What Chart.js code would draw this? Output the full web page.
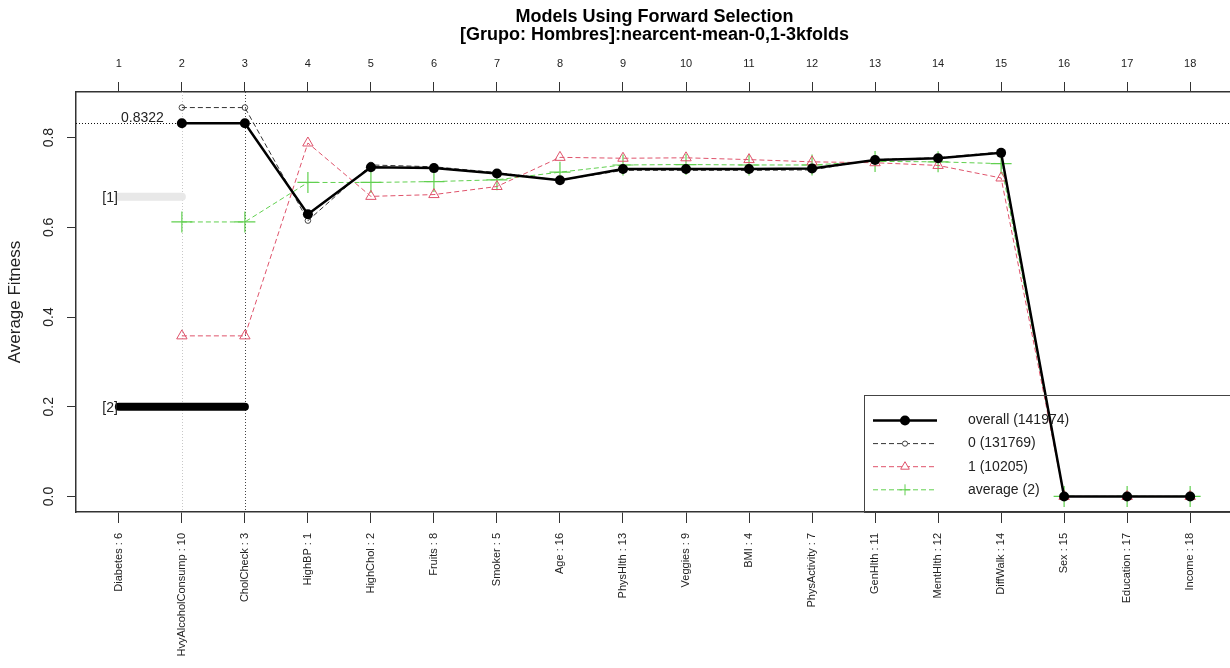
<!DOCTYPE html>
<html>
<head>
<meta charset="utf-8">
<title>Models Using Forward Selection</title>
<script src="https://cdn.jsdelivr.net/npm/chart.js@4/dist/chart.umd.min.js"></script>
<style>
  html, body { margin: 0; padding: 0; background: #fff; width: 1230px; height: 668px; overflow: hidden; }
  #wrap { position: absolute; left: 0; top: 0; width: 1234px; height: 668px; }
</style>
</head>
<body>
<div id="wrap"><canvas id="chart" width="1234" height="668"></canvas></div>
<script>
// Selection steps and the variable added at each step
const steps = [1, 2, 3, 4, 5, 6, 7, 8, 9, 10, 11, 12, 13, 14, 15, 16, 17, 18];
const varNames = ['Diabetes', 'HvyAlcoholConsump', 'CholCheck', 'HighBP', 'HighChol', 'Fruits',
  'Smoker', 'Age', 'PhysHlth', 'Veggies', 'BMI', 'PhysActivity', 'GenHlth', 'MentHlth',
  'DiffWalk', 'Sex', 'Education', 'Income'];
const varIds = [6, 10, 3, 1, 2, 8, 5, 16, 13, 9, 4, 7, 11, 12, 14, 15, 17, 18];

// Average fitness per step (no model at step 1)
const overall = [null, 0.8322, 0.8322, 0.629, 0.734, 0.732, 0.720, 0.705, 0.730, 0.730, 0.730, 0.731, 0.750, 0.754, 0.766, 0, 0, 0];
const class0  = [null, 0.867, 0.867, 0.615, 0.739, 0.735, 0.722, 0.705, 0.727, 0.727, 0.727, 0.728, 0.751, 0.755, 0.768, 0, 0, 0];
const class1  = [null, 0.358, 0.358, 0.788, 0.669, 0.673, 0.691, 0.756, 0.754, 0.755, 0.751, 0.746, 0.744, 0.738, 0.710, 0, 0, 0];
const average = [null, 0.612, 0.612, 0.700, 0.700, 0.702, 0.706, 0.723, 0.739, 0.740, 0.739, 0.739, 0.747, 0.746, 0.742, 0, 0, 0];

const seriesLabels = ['overall (141974)', '0 (131769)', '1 (10205)', 'average (2)'];

// Best fitness and the steps that reach it
const bestValue = 0.8322;
const bestSteps = [2, 3];

// Bracketed group markers: level and the step where each ends
const groupLabels = ['[1]', '[2]'];
const groupLevels = [0.668, 0.2];
const groupEnds = [2, 3];

const yTicks = [0, 0.2, 0.4, 0.6, 0.8];
const xLimits = [0.32, 18.68];
const yLimits = [-0.0347, 0.9017];

const FONT = "'Liberation Sans', Arial, Helvetica, sans-serif";
const RED = '#DF536B';
const GREEN = '#61D04F';

const toPoints = vals => steps.map((s, i) => (vals[i] == null ? null : { x: s, y: vals[i] })).filter(p => p);

const groupSets = groupLabels.map((lab, k) => ({
  label: lab,
  data: [{ x: steps[0], y: groupLevels[k] }, { x: groupEnds[k], y: groupLevels[k] }],
  borderColor: k === 0 ? '#E8E8E8' : '#000',
  borderWidth: 8,
  borderCapStyle: 'round',
  pointRadius: 0,
  order: 20 + k
}));

// Extra drawing: reference lines, annotations, rotated y tick labels, legend
const decor = {
  id: 'decor',
  beforeDatasetsDraw(chart) {
    const { ctx, chartArea: a, scales: { x, y } } = chart;
    ctx.save();
    ctx.lineWidth = 1;
    ctx.setLineDash([1, 2]);
    bestSteps.forEach((s, k) => {
      const px = Math.round(x.getPixelForValue(s)) + 0.5;
      ctx.strokeStyle = k === 0 ? '#C8C8C8' : '#444';
      ctx.beginPath(); ctx.moveTo(px, a.top); ctx.lineTo(px, a.bottom); ctx.stroke();
    });
    const yb = Math.round(y.getPixelForValue(bestValue)) + 0.5;
    ctx.strokeStyle = '#111';
    ctx.beginPath(); ctx.moveTo(a.left, yb); ctx.lineTo(a.right, yb); ctx.stroke();
    ctx.restore();
  },
  afterDatasetsDraw(chart) {
    const { ctx, chartArea: a, scales: { x, y } } = chart;
    ctx.save();
    ctx.fillStyle = '#222';
    ctx.font = '14px ' + FONT;

    // best value label
    ctx.textAlign = 'right';
    ctx.textBaseline = 'middle';
    ctx.fillText(bestValue.toFixed(4), x.getPixelForValue(bestSteps[0]) - 18, y.getPixelForValue(bestValue) - 5);

    // group labels
    groupLabels.forEach((lab, k) => {
      ctx.fillText(lab, x.getPixelForValue(steps[0]) - 1, y.getPixelForValue(groupLevels[k]) + 1.5);
    });

    // y tick labels, parallel to the axis
    ctx.textAlign = 'center';
    yTicks.forEach(v => {
      ctx.save();
      ctx.translate(a.left - 26.5, y.getPixelForValue(v));
      ctx.rotate(-Math.PI / 2);
      ctx.fillText(v.toFixed(1), 0, 0);
      ctx.restore();
    });

    // legend
    const lx = 864, ly = 395;
    ctx.strokeStyle = '#444';
    ctx.lineWidth = 1;
    ctx.setLineDash([]);
    ctx.strokeRect(lx + 0.5, ly + 0.5, a.right - lx, a.bottom - ly);
    const styles = [
      { color: '#000', width: 2.5, dash: [], mark: 'dot' },
      { color: '#333', width: 1, dash: [5, 3], mark: 'ring' },
      { color: RED, width: 1, dash: [5, 3], mark: 'tri' },
      { color: GREEN, width: 1, dash: [5, 3], mark: 'plus' }
    ];
    seriesLabels.forEach((lab, i) => {
      const ry = ly + 25.5 + i * 23.1;
      const st = styles[i];
      ctx.strokeStyle = st.color;
      ctx.lineWidth = st.width;
      ctx.setLineDash(st.dash);
      ctx.beginPath(); ctx.moveTo(873, ry); ctx.lineTo(937, ry); ctx.stroke();
      ctx.setLineDash([]);
      const mx = 905;
      ctx.lineWidth = 1;
      ctx.beginPath();
      if (st.mark === 'dot') {
        ctx.fillStyle = '#000';
        ctx.arc(mx, ry, 5, 0, Math.PI * 2); ctx.fill();
      } else if (st.mark === 'ring') {
        ctx.fillStyle = '#fff';
        ctx.arc(mx, ry, 2.6, 0, Math.PI * 2); ctx.fill(); ctx.strokeStyle = '#444'; ctx.stroke();
      } else if (st.mark === 'tri') {
        ctx.fillStyle = '#fff';
        ctx.moveTo(mx, ry - 5); ctx.lineTo(mx + 4.3, ry + 2.5); ctx.lineTo(mx - 4.3, ry + 2.5); ctx.closePath();
        ctx.fill(); ctx.stroke();
      } else {
        ctx.moveTo(mx - 5.5, ry); ctx.lineTo(mx + 5.5, ry);
        ctx.moveTo(mx, ry - 5.5); ctx.lineTo(mx, ry + 5.5); ctx.stroke();
      }
      ctx.fillStyle = '#222';
      ctx.textAlign = 'left';
      ctx.textBaseline = 'middle';
      ctx.font = '14px ' + FONT;
      ctx.fillText(lab, 968, ry);
    });
    ctx.restore();
  }
};

const fixedTicks = s => { s.ticks = steps.map(v => ({ value: v })); };
const fitHorizontal = h => s => { s.height = h; s.paddingLeft = 0; s.paddingRight = 0; };

new Chart(document.getElementById('chart'), {
  type: 'line',
  data: {
    datasets: [
      {
        label: seriesLabels[0], data: toPoints(overall),
        borderColor: '#000', borderWidth: 2.5,
        pointStyle: 'circle', pointRadius: 5, pointBackgroundColor: '#000', pointBorderColor: '#000', pointBorderWidth: 0,
        order: 0
      },
      {
        label: seriesLabels[1], data: toPoints(class0),
        borderColor: '#333', borderWidth: 1, borderDash: [5, 3],
        pointStyle: 'circle', pointRadius: 2.8, pointBackgroundColor: 'rgba(255,255,255,0)', pointBorderColor: '#444', pointBorderWidth: 1,
        order: 1
      },
      {
        label: seriesLabels[2], data: toPoints(class1),
        borderColor: RED, borderWidth: 1, borderDash: [5, 3],
        pointStyle: 'triangle', pointRadius: 6, pointBackgroundColor: 'rgba(255,255,255,0)', pointBorderColor: RED, pointBorderWidth: 1,
        order: 2
      },
      {
        label: seriesLabels[3], data: toPoints(average),
        borderColor: GREEN, borderWidth: 1, borderDash: [5, 3],
        pointStyle: 'cross', pointRadius: 10.5, pointBorderColor: GREEN, pointBorderWidth: 1.2,
        order: 3
      },
      ...groupSets
    ]
  },
  options: {
    responsive: false,
    animation: false,
    events: [],
    devicePixelRatio: 1,
    layout: { autoPadding: false, padding: { left: 0, right: 1, top: 0, bottom: 0 } },
    elements: { line: { tension: 0, fill: false } },
    plugins: {
      legend: { display: false },
      tooltip: { enabled: false },
      title: {
        display: true,
        fullSize: false,
        text: ['Models Using Forward Selection', '[Grupo: Hombres]:nearcent-mean-0,1-3kfolds'],
        color: '#000',
        font: { family: FONT, size: 18, weight: 'bold', lineHeight: 1.0 },
        padding: { top: 8, bottom: 0 }
      }
    },
    scales: {
      x: {
        type: 'linear', position: 'bottom',
        min: xLimits[0], max: xLimits[1],
        afterBuildTicks: fixedTicks,
        afterFit: fitHorizontal(156),
        ticks: {
          autoSkip: false, minRotation: 90, maxRotation: 90, padding: 10,
          color: '#222', font: { family: FONT, size: 11 },
          callback: (v, i) => varNames[i] + ' : ' + varIds[i]
        },
        grid: { drawOnChartArea: false, tickLength: 11, tickColor: '#333', tickWidth: 1 },
        border: { display: true, color: '#333', width: 1.5 }
      },
      x2: {
        type: 'linear', position: 'top',
        min: xLimits[0], max: xLimits[1],
        afterBuildTicks: fixedTicks,
        afterFit: fitHorizontal(48),
        ticks: {
          autoSkip: false, minRotation: 0, maxRotation: 0, padding: 11,
          color: '#222', font: { family: FONT, size: 11 },
          callback: (v, i) => String(steps[i])
        },
        grid: { drawOnChartArea: false, tickLength: 10, tickColor: '#333', tickWidth: 1 },
        border: { display: true, color: '#333', width: 1.5 }
      },
      y: {
        type: 'linear', position: 'left',
        min: yLimits[0], max: yLimits[1],
        afterBuildTicks: s => { s.ticks = yTicks.map(v => ({ value: v })); },
        afterFit: s => { s.width = 76; },
        ticks: { display: false },
        grid: { drawOnChartArea: false, tickLength: 9, tickColor: '#333', tickWidth: 1 },
        border: { display: true, color: '#333', width: 1.5 },
        title: {
          display: true, text: 'Average Fitness', color: '#222',
          font: { family: FONT, size: 17 }, padding: { top: 5, bottom: 0 }
        }
      }
    }
  },
  plugins: [decor]
});
</script>
</body>
</html>
